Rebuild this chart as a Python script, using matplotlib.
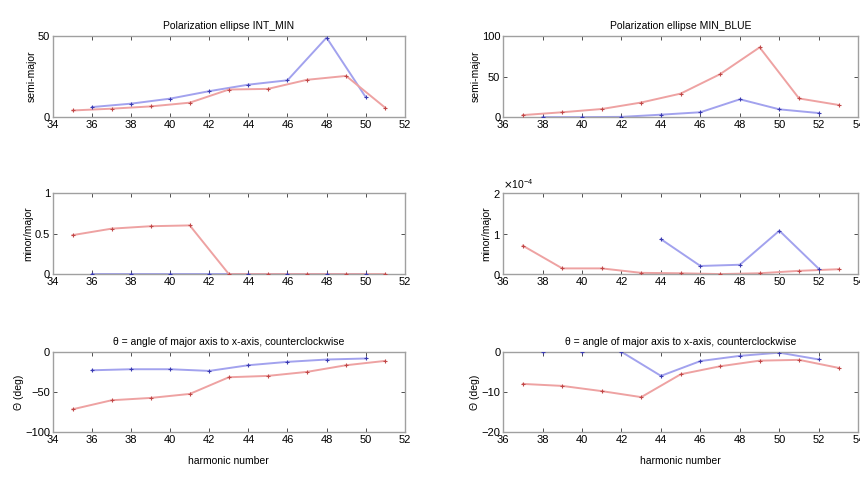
import numpy as np
import matplotlib
matplotlib.use("Agg")
import matplotlib.pyplot as plt
from matplotlib.ticker import ScalarFormatter

plt.rcParams['font.family'] = ['Liberation Sans', 'DejaVu Sans']

# ---------------- data ----------------
# INT_MIN
im_red_h = [35, 37, 39, 41, 43, 45, 47, 49, 51]
im_blue_h = [36, 38, 40, 42, 44, 46, 48, 50]
im_red_major = [4.1, 5.2, 6.6, 8.9, 17.0, 17.4, 23.0, 25.4, 5.8]
im_blue_major = [6.2, 8.3, 11.4, 16.0, 20.0, 22.7, 49.0, 12.4]
im_red_ratio = [0.48, 0.56, 0.59, 0.60, 0.0, 0.0, 0.0, 0.0, 0.0]
im_blue_ratio = [0.0, 0.0, 0.0, 0.0, 0.0, 0.0, 0.0, 0.0]
im_red_theta = [-71.7, -60.4, -57.5, -52.5, -31.7, -30.0, -25.0, -16.7, -11.3]
im_blue_theta = [-23.0, -21.7, -21.7, -23.8, -16.7, -12.5, -9.6, -8.3]

# MIN_BLUE
mb_red_h = [37, 39, 41, 43, 45, 47, 49, 51, 53]
mb_blue_h = [38, 40, 42, 44, 46, 48, 50, 52]
mb_red_major = [2.5, 6.0, 10.0, 18.0, 29.0, 53.0, 86.0, 23.0, 15.0]
mb_blue_major = [0.0, 0.0, 0.3, 3.0, 6.0, 22.0, 9.6, 5.0]
mb_red_ratio = [0.70e-4, 0.14e-4, 0.14e-4, 0.03e-4, 0.02e-4, 0.0, 0.02e-4, 0.08e-4, 0.12e-4]
mb_blue_ratio = [np.nan, np.nan, np.nan, 0.86e-4, 0.20e-4, 0.23e-4, 1.07e-4, 0.13e-4]
mb_red_theta = [-8.0, -8.5, -9.8, -11.3, -5.6, -3.6, -2.2, -2.0, -4.0]
mb_blue_theta = [0.0, 0.0, 0.0, -6.0, -2.3, -1.0, -0.2, -1.9]

RED_LINE = '#eea2a2'
RED_MK = '#c04848'
BLUE_LINE = '#a2a2ee'
BLUE_MK = '#3a3ab0'

fig = plt.figure(figsize=(8.6, 4.8), dpi=100)

L = [0.0616, 0.409]
R = [0.585, 0.413]
rows = [(0.756, 0.169), (0.429, 0.169), (0.100, 0.167)]


def style(ax, xlim, xticks, ylim, yticks):
    ax.set_xlim(*xlim)
    ax.set_ylim(*ylim)
    ax.set_xticks(xticks)
    ax.set_yticks(yticks)
    ax.tick_params(direction='in', top=True, right=True, labelsize=8,
                   length=3, width=0.6, color='#333333', pad=2)
    for s in ax.spines.values():
        s.set_color('#a0a0a0')
        s.set_linewidth(1.0)


def draw(ax, hr, yr, hb, yb):
    ax.plot(hb, yb, color=BLUE_LINE, lw=1.4, zorder=2)
    ax.plot(hb, yb, ls='none', marker='+', ms=3.0, mew=0.8, color=BLUE_MK, zorder=3)
    ax.plot(hr, yr, color=RED_LINE, lw=1.4, zorder=2)
    ax.plot(hr, yr, ls='none', marker='+', ms=3.0, mew=0.8, color=RED_MK, zorder=3)


xl_L = (34, 52)
xt_L = list(range(34, 53, 2))
xl_R = (36, 54)
xt_R = list(range(36, 55, 2))

# Left column
ax = fig.add_axes([L[0], rows[0][0], L[1], rows[0][1]])
draw(ax, im_red_h, im_red_major, im_blue_h, im_blue_major)
style(ax, xl_L, xt_L, (0, 50), [0, 50])
ax.set_ylabel('semi-major', fontsize=7.5, labelpad=1)
ax.set_title('Polarization ellipse INT_MIN', fontsize=7.5, pad=5)

ax = fig.add_axes([L[0], rows[1][0], L[1], rows[1][1]])
draw(ax, im_red_h, im_red_ratio, im_blue_h, im_blue_ratio)
style(ax, xl_L, xt_L, (0, 1), [0, 0.5, 1])
ax.set_yticklabels(['0', '0.5', '1'])
ax.set_ylabel('minor/major', fontsize=7.5, labelpad=1)

ax = fig.add_axes([L[0], rows[2][0], L[1], rows[2][1]])
draw(ax, im_red_h, im_red_theta, im_blue_h, im_blue_theta)
style(ax, xl_L, xt_L, (-100, 0), [-100, -50, 0])
ax.set_ylabel('Θ (deg)', fontsize=7.5, labelpad=1)
ax.set_title('θ = angle of major axis to x-axis, counterclockwise', fontsize=7.5, pad=5)
ax.set_xlabel('harmonic number', fontsize=7.5, labelpad=8)

# Right column
ax = fig.add_axes([R[0], rows[0][0], R[1], rows[0][1]])
draw(ax, mb_red_h, mb_red_major, mb_blue_h, mb_blue_major)
style(ax, xl_R, xt_R, (0, 100), [0, 50, 100])
ax.set_ylabel('semi-major', fontsize=7.5, labelpad=1)
ax.set_title('Polarization ellipse MIN_BLUE', fontsize=7.5, pad=5)

ax = fig.add_axes([R[0], rows[1][0], R[1], rows[1][1]])
draw(ax, mb_red_h, mb_red_ratio, mb_blue_h, mb_blue_ratio)
style(ax, xl_R, xt_R, (0, 2e-4), [0, 1e-4, 2e-4])
fmt = ScalarFormatter(useMathText=True)
fmt.set_powerlimits((-3, 3))
ax.yaxis.set_major_formatter(fmt)
ax.yaxis.get_offset_text().set_fontsize(7.5)
ax.set_ylabel('minor/major', fontsize=7.5, labelpad=1)

ax = fig.add_axes([R[0], rows[2][0], R[1], rows[2][1]])
draw(ax, mb_red_h, mb_red_theta, mb_blue_h, mb_blue_theta)
style(ax, xl_R, xt_R, (-20, 0), [-20, -10, 0])
ax.set_ylabel('Θ (deg)', fontsize=7.5, labelpad=1)
ax.set_title('θ = angle of major axis to x-axis, counterclockwise', fontsize=7.5, pad=5)
ax.set_xlabel('harmonic number', fontsize=7.5, labelpad=8)

fig.savefig('out.png', dpi=100)
